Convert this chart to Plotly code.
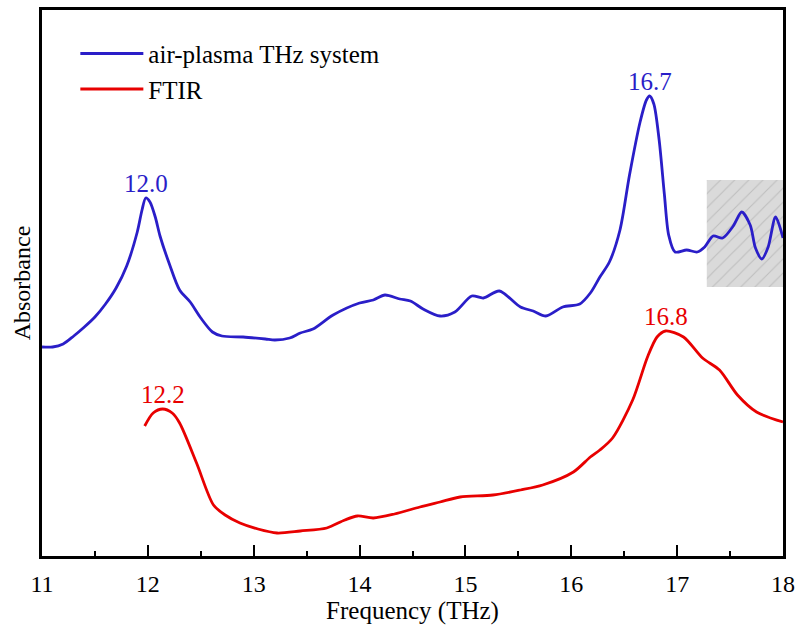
import plotly.graph_objects as go

# ---- data (absorbance in arbitrary units) ----
thz_freq = [11.00, 11.10, 11.20, 11.30, 11.40, 11.50, 11.60, 11.70, 11.80, 11.90, 11.945, 11.98,
            12.02, 12.07, 12.115, 12.20, 12.30, 12.40, 12.50, 12.61, 12.70, 12.90, 13.11, 13.20,
            13.34, 13.44, 13.56, 13.75, 14.00, 14.13, 14.24, 14.38, 14.48, 14.60, 14.76, 14.90,
            15.06, 15.17, 15.32, 15.52, 15.64, 15.76, 15.92, 16.08, 16.18, 16.27, 16.36, 16.46,
            16.55, 16.65, 16.71, 16.74, 16.78, 16.83, 16.88, 16.92, 16.98, 17.09, 17.19, 17.26,
            17.34, 17.43, 17.53, 17.61, 17.69, 17.74, 17.80, 17.86, 17.93, 18.00]
thz_abs = [2.09, 2.09, 2.12, 2.20, 2.29, 2.39, 2.52, 2.68, 2.90, 3.24, 3.46, 3.58,
           3.54, 3.39, 3.20, 2.93, 2.66, 2.54, 2.38, 2.24, 2.20, 2.19, 2.17, 2.16,
           2.18, 2.23, 2.27, 2.41, 2.53, 2.56, 2.61, 2.57, 2.55, 2.47, 2.40, 2.44,
           2.60, 2.58, 2.65, 2.49, 2.45, 2.40, 2.49, 2.52, 2.63, 2.79, 2.94, 3.26,
           3.81, 4.34, 4.56, 4.60, 4.52, 4.16, 3.61, 3.21, 3.04, 3.06, 3.04, 3.09,
           3.20, 3.18, 3.30, 3.44, 3.31, 3.08, 2.97, 3.09, 3.39, 3.18]

ftir_freq = [11.97, 12.05, 12.14, 12.23, 12.30, 12.46, 12.62, 12.73, 12.87, 13.04, 13.22, 13.44,
             13.69, 13.86, 13.98, 14.13, 14.33, 14.57, 14.76, 14.95, 15.26, 15.52, 15.73, 16.02,
             16.18, 16.27, 16.39, 16.58, 16.72, 16.81, 16.89, 17.06, 17.24, 17.40, 17.57, 17.75,
             18.00]
ftir_abs = [1.30, 1.43, 1.47, 1.43, 1.33, 0.93, 0.51, 0.41, 0.33, 0.27, 0.23, 0.25,
            0.28, 0.36, 0.40, 0.38, 0.42, 0.49, 0.54, 0.59, 0.61, 0.66, 0.71, 0.84,
            0.99, 1.06, 1.18, 1.56, 1.99, 2.19, 2.25, 2.19, 1.98, 1.86, 1.61, 1.44,
            1.34]

peak_labels = ["12.0", "16.7", "12.2", "16.8"]
peak_x = [11.98, 16.74, 12.14, 16.89]
peak_y = [3.58, 4.60, 1.47, 2.25]
peak_series = ["thz", "thz", "ftir", "ftir"]

highlight_x = [17.28, 18.0]
highlight_y = [2.69, 3.76]

x_ticks = [11, 12, 13, 14, 15, 16, 17, 18]

BLUE = "#2a1ec8"
RED = "#e80000"
FONT = "Liberation Serif"

fig = go.Figure()

# hatched highlight region
fig.add_trace(go.Scatter(
    x=[highlight_x[0], highlight_x[1], highlight_x[1], highlight_x[0], highlight_x[0]],
    y=[highlight_y[0], highlight_y[0], highlight_y[1], highlight_y[1], highlight_y[0]],
    mode="lines", line=dict(width=0), fill="toself",
    fillcolor="#d8d8d8",
    fillpattern=dict(shape="/", bgcolor="#dadada", fgcolor="#a0a0a0", size=10, solidity=0.1),
    showlegend=False, hoverinfo="skip"))

fig.add_trace(go.Scatter(x=thz_freq, y=thz_abs, mode="lines", name="air-plasma THz system",
                         line=dict(color=BLUE, width=2.8, shape="spline", smoothing=0.8),
                         legendgroup="a"))
fig.add_trace(go.Scatter(x=ftir_freq, y=ftir_abs, mode="lines", name="FTIR",
                         line=dict(color=RED, width=2.8, shape="spline", smoothing=0.8),
                         legendgroup="b"))

for lab, px, py, s in zip(peak_labels, peak_x, peak_y, peak_series):
    fig.add_annotation(x=px, y=py, text=lab, showarrow=False, yanchor="bottom", yshift=-1,
                       font=dict(family=FONT, size=25, color=BLUE if s == "thz" else RED))

fig.update_layout(
    width=799, height=626,
    margin=dict(l=42, r=16, t=10, b=70),
    paper_bgcolor="white", plot_bgcolor="white",
    font=dict(family=FONT, size=24, color="black"),
    legend=dict(x=0.045, y=0.962, xanchor="left", yanchor="top", bgcolor="rgba(0,0,0,0)",
                font=dict(family=FONT, size=25), tracegroupgap=0, traceorder="grouped",
                itemwidth=63),
    xaxis=dict(range=[11, 18], tickvals=x_ticks, ticks="inside", ticklen=11, tickwidth=2,
               tickcolor="black", showline=True, linecolor="black", linewidth=2.5, mirror=True,
               showgrid=False, zeroline=False, automargin=False, ticklabelstandoff=4,
               minor=dict(ticks="inside", ticklen=5, tickwidth=2, tickcolor="black", dtick=0.5,
                          showgrid=False),
               tickfont=dict(family=FONT, size=24),
               title=dict(text="Frequency (THz)", font=dict(family=FONT, size=25), standoff=0)),
    yaxis=dict(range=[0, 5.46], showticklabels=False, ticks="", showline=True, linecolor="black",
               linewidth=2.5, mirror=True, showgrid=False, zeroline=False, automargin=False,
               title=dict(text="Absorbance", font=dict(family=FONT, size=24), standoff=2)),
)

fig.write_html("out.html", post_script="document.body.style.margin='0px';",
               config={"displayModeBar": False})
